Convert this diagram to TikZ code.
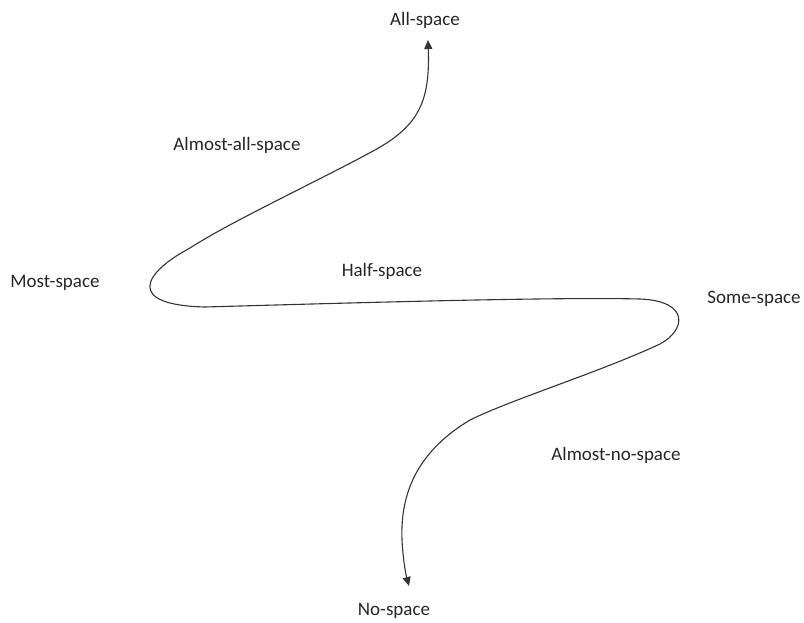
\documentclass[tikz,border=0pt]{standalone}
\usepackage{fontspec}
\setmainfont{Carlito}
\usetikzlibrary{arrows.meta}
\begin{document}
\begin{tikzpicture}[x=1pt,y=-1pt,
  lbl/.style={font=\fontsize{19}{22}\selectfont, text=black!85, inner sep=0pt},
  curve/.style={line width=1.1pt, black!80, {Triangle[length=9pt,width=8pt]}-{Triangle[length=9pt,width=8pt]}}]
\useasboundingbox (0,0) rectangle (804,622);
\node[lbl] (all) at (425,20) {All-space};
\node[lbl] (aas) at (237,145) {Almost-all-space};
\node[lbl] (most) at (55,283) {Most-space};
\node[lbl] (half) at (382,271) {Half-space};
\node[lbl] (some) at (754,299) {Some-space};
\node[lbl] (ans) at (616,455) {Almost-no-space};
\node[lbl] (no) at (394,611) {No-space};
\coordinate (top) at (428,40);
\coordinate (bot) at (409,586);
\draw[curve] (top) .. controls (430,100) and (420,125) .. (375,150)
  .. controls (320,180) and (230,222) .. (190,248)
  .. controls (143,273) and (125,305) .. (205,307)
  .. controls (380,302) and (560,297) .. (640,299)
  .. controls (690,301) and (686,330) .. (660,344)
  .. controls (600,372) and (510,400) .. (470,420)
  .. controls (420,450) and (400,490) .. (402,540)
  .. controls (403,560) and (406,575) .. (bot);
\end{tikzpicture}
\end{document}
